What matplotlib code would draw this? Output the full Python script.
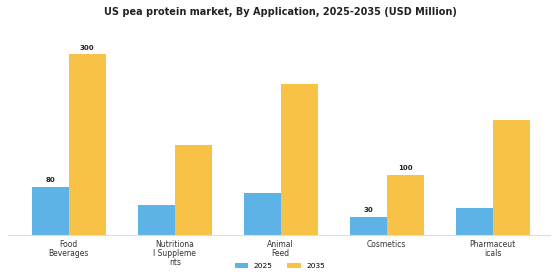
import matplotlib.pyplot as plt
import numpy as np

categories = ["Food\nBeverages", "Nutritiona\nl Suppleme\nnts", "Animal\nFeed", "Cosmetics", "Pharmaceut\nicals"]
values_2025 = [80, 50, 70, 30, 45]
values_2035 = [300, 150, 250, 100, 190]
# only some bars carry a value label in the original
labelled = [0, 3]

fig = plt.figure(figsize=(5.6, 2.8), dpi=100)
ax = fig.add_axes([0.014, 0.161, 0.968, 0.71])

x = np.arange(len(categories))
w = 0.35
ax.bar(x - w / 2, values_2025, w, color="#5DB2E6", label="2025")
ax.bar(x + w / 2, values_2035, w, color="#F8C247", label="2035")

for i in labelled:
    ax.text(x[i] - w / 2, values_2025[i] + 6, str(values_2025[i]), ha="center", va="bottom",
            fontsize=5, fontweight="bold", color="#222222")
    ax.text(x[i] + w / 2, values_2035[i] + 6, str(values_2035[i]), ha="center", va="bottom",
            fontsize=5, fontweight="bold", color="#222222")

ax.set_xlim(-0.575, 4.54)
ax.set_ylim(0, 330)
ax.set_xticks(x)
ax.set_xticklabels(categories, fontsize=5.5, color="#333333", linespacing=1.0)
ax.tick_params(axis="x", length=0, pad=4)
ax.set_yticks([])
for s in ["top", "right", "left"]:
    ax.spines[s].set_visible(False)
ax.spines["bottom"].set_color("#dddddd")
ax.spines["bottom"].set_linewidth(0.8)

fig.suptitle("US pea protein market, By Application, 2025-2035 (USD Million)",
             fontsize=7, fontweight="bold", y=0.975, color="#222222")
fig.legend(loc="lower center", bbox_to_anchor=(0.5, 0.015), ncol=2, frameon=False,
           fontsize=5.3, handlelength=1.8, handleheight=0.6, columnspacing=2.0)

fig.savefig("out.png", dpi=100)
